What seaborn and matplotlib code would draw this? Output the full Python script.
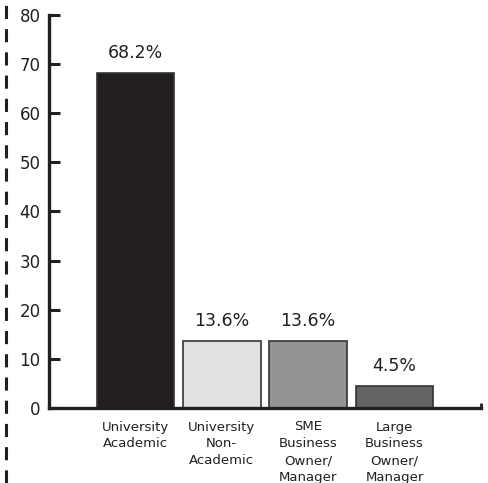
import matplotlib
matplotlib.use("Agg")
import matplotlib.pyplot as plt
import seaborn as sns
import pandas as pd
from matplotlib.lines import Line2D

categories = ["University\nAcademic", "University\nNon-\nAcademic",
              "SME\nBusiness\nOwner/\nManager", "Large\nBusiness\nOwner/\nManager"]
values = [68.2, 13.6, 13.6, 4.5]
labels = ["68.2%", "13.6%", "13.6%", "4.5%"]
colors = ["#231f20", "#e1e1e2", "#939495", "#636466"]
yticks = [0, 10, 20, 30, 40, 50, 60, 70, 80]

sns.set_theme(style="white")
plt.rcParams["font.family"] = ["DejaVu Sans"]

df = pd.DataFrame({"cat": categories, "val": values})

fig = plt.figure(figsize=(4.88, 4.83), dpi=100)
ax = fig.add_axes([49/488, 75/483, (481-49)/488, (408-15)/483])

sns.barplot(data=df, x="cat", y="val", hue="cat", palette=colors, legend=False,
            width=0.9, edgecolor="#333333", linewidth=1.2, ax=ax, saturation=1)

for i, (v, lab) in enumerate(zip(values, labels)):
    ax.annotate(lab, (i, v), xytext=(0, 8), textcoords="offset points",
                ha="center", va="bottom", fontsize=12.5, color="#231f20")

ax.set_xlim(-1, 4)
ax.set_ylim(0, 80)
ax.set_yticks(yticks)
ax.set_xlabel("")
ax.set_ylabel("")
ax.tick_params(axis="y", direction="in", length=8, width=2.2, colors="#231f20",
               labelsize=12, pad=6, left=True)
ax.tick_params(axis="x", length=0, labelsize=9.5, colors="#231f20", pad=9)
for t in ax.get_xticklabels():
    t.set_linespacing(1.38)
    t.set_va("top")

for s in ["top", "right"]:
    ax.spines[s].set_visible(False)
for s in ["left", "bottom"]:
    ax.spines[s].set_color("#231f20")
    ax.spines[s].set_linewidth(2.4)

# small end tick at right of x-axis
ax.plot([4, 4], [0, 1.0], color="#231f20", lw=2.0, clip_on=False, solid_capstyle="butt")

# dashed vertical line on left edge
fig.add_artist(Line2D([6/488, 6/488], [0, 1], color="#231f20", lw=2.2,
                      linestyle=(0, (4.3, 3.3))))

fig.savefig("out.png", dpi=100)
